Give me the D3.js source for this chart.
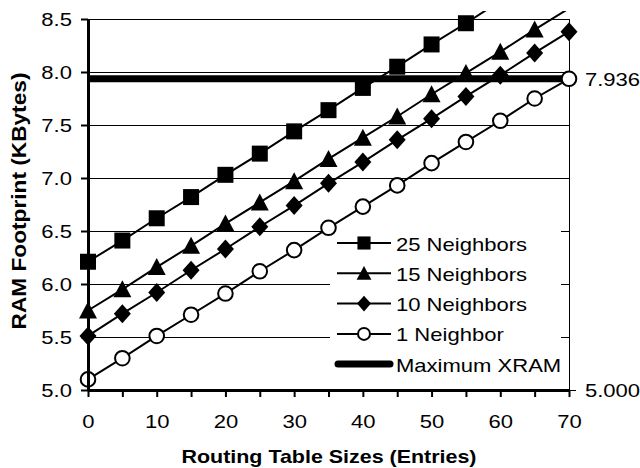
<!DOCTYPE html>
<html>
<head>
<meta charset="utf-8">
<script src="https://cdn.jsdelivr.net/npm/d3@7"></script>
<style>
  body { margin: 0; background: #fff; }
  text { font-family: "Liberation Sans", Arial, sans-serif; fill: #000; }
</style>
</head>
<body>
<svg width="640" height="468"></svg>
<script>
// routing table sizes (entries)
const tableSizes = [0, 5, 10, 15, 20, 25, 30, 35, 40, 45, 50, 55, 60, 65, 70];
// RAM footprint in KBytes
const neighbors25 = [6.21, 6.41, 6.62, 6.82, 7.03, 7.23, 7.44, 7.64, 7.85, 8.05, 8.26, 8.46, 8.67, 8.87, 9.08];
const neighbors15 = [5.75, 5.95, 6.16, 6.36, 6.57, 6.77, 6.97, 7.18, 7.38, 7.58, 7.79, 7.99, 8.19, 8.40, 8.60];
const neighbors10 = [5.51, 5.72, 5.92, 6.13, 6.33, 6.54, 6.74, 6.95, 7.15, 7.36, 7.56, 7.77, 7.97, 8.18, 8.38];
const neighbors1 = [5.10, 5.30, 5.51, 5.71, 5.91, 6.12, 6.32, 6.53, 6.73, 6.93, 7.14, 7.34, 7.54, 7.75, 7.936];
const maxXram = 7.936;

const seriesNames = ["25 Neighbors", "15 Neighbors", "10 Neighbors", "1 Neighbor"];
const seriesValues = [neighbors25, neighbors15, neighbors10, neighbors1];
const seriesMarkers = ["square", "triangle", "diamond", "circle"];

const yTicks = [5.0, 5.5, 6.0, 6.5, 7.0, 7.5, 8.0, 8.5];
const rightLabels = [7.936, 5.000];

const svg = d3.select("svg");
const x = d3.scaleLinear().domain([0, 70]).range([88, 569]);
const y = d3.scaleLinear().domain([5, 8.5]).range([390, 19]);

const SX = 1.16; // text in the picture is a bit wider than the font

function marker(g, type, cx, cy, s) {
  if (type === "square") {
    g.append("rect").attr("x", cx - 8 * s).attr("y", cy - 8 * s)
      .attr("width", 16 * s).attr("height", 16 * s).attr("fill", "#000");
  } else if (type === "triangle") {
    g.append("path").attr("fill", "#000")
      .attr("d", `M${cx},${cy - 9 * s}L${cx + 9 * s},${cy + 8 * s}L${cx - 9 * s},${cy + 8 * s}Z`);
  } else if (type === "diamond") {
    g.append("path").attr("fill", "#000")
      .attr("d", `M${cx},${cy - 9.5 * s}L${cx + 8.5 * s},${cy}L${cx},${cy + 9.5 * s}L${cx - 8.5 * s},${cy}Z`);
  } else {
    g.append("circle").attr("cx", cx).attr("cy", cy).attr("r", 7.3 * s)
      .attr("fill", "#fff").attr("stroke", "#000").attr("stroke-width", 2);
  }
}

function label(g, tx, ty, str, anchor, size, bold) {
  return g.append("text")
    .attr("transform", `translate(${tx},${ty}) scale(${SX},1)`)
    .attr("text-anchor", anchor || "start")
    .style("font-size", (size || 19) + "px")
    .style("font-weight", bold ? "bold" : "normal")
    .text(str);
}

// gridlines
svg.append("g").selectAll("line")
  .data(yTicks.slice(1))
  .join("line")
  .attr("x1", 88).attr("x2", 569)
  .attr("y1", d => Math.round(y(d)) + 0.5).attr("y2", d => Math.round(y(d)) + 0.5)
  .attr("stroke", "#000").attr("stroke-width", 1);

// right axis
const right = svg.append("g");
right.append("line").attr("x1", 569.5).attr("x2", 569.5).attr("y1", y(8.5)).attr("y2", y(5))
  .attr("stroke", "#000").attr("stroke-width", 1);
right.selectAll("line.in").data(yTicks.slice(1)).join("line").attr("class", "in")
  .attr("x1", 561).attr("x2", 569)
  .attr("y1", d => Math.round(y(d)) + 0.5).attr("y2", d => Math.round(y(d)) + 0.5)
  .attr("stroke", "#000");
right.selectAll("line.out").data(rightLabels).join("line").attr("class", "out")
  .attr("x1", 569).attr("x2", 576)
  .attr("y1", d => Math.round(y(d)) + 0.5).attr("y2", d => Math.round(y(d)) + 0.5)
  .attr("stroke", "#000");
rightLabels.forEach(v => label(right, 585, y(v) + 7, d3.format(".3f")(v), "start"));

// legend box (under the marks)
const legend = svg.append("g");
legend.append("rect").attr("x", 330).attr("y", 229).attr("width", 231).attr("height", 154)
  .attr("fill", "#fff");

// maximum XRAM
svg.append("line")
  .attr("x1", x(0)).attr("x2", x(70))
  .attr("y1", y(maxXram)).attr("y2", y(maxXram))
  .attr("stroke", "#000").attr("stroke-width", 7);

// series
svg.append("defs").append("clipPath").attr("id", "plot")
  .append("rect").attr("x", 70).attr("y", 11).attr("width", 520).attr("height", 400);

const line = d3.line().x((d, i) => x(tableSizes[i])).y(d => y(d));
const plot = svg.append("g").attr("clip-path", "url(#plot)");
seriesValues.forEach((vals, k) => {
  plot.append("path").attr("d", line(vals))
    .attr("fill", "none").attr("stroke", "#000").attr("stroke-width", 2);
});
seriesValues.forEach((vals, k) => {
  vals.forEach((v, i) => {
    if (v <= 8.5) marker(plot, seriesMarkers[k], x(tableSizes[i]), y(v), 1);
  });
});

// axes
const ax = svg.append("g").attr("transform", "translate(0,390)")
  .call(d3.axisBottom(x).tickValues(tableSizes).tickSize(7).tickSizeOuter(0)
    .tickFormat(d => d % 10 === 0 ? d : ""));
ax.select(".domain").attr("stroke-width", 3);
ax.selectAll(".tick line").attr("stroke-width", 2);
ax.selectAll("text").attr("dy", null).attr("y", null)
  .attr("transform", `translate(0,38) scale(${SX},1)`)
  .style("font-size", "19px").style("font-family", null);

const ay = svg.append("g").attr("transform", "translate(88,0)")
  .call(d3.axisLeft(y).tickValues(yTicks).tickSize(7).tickSizeOuter(0)
    .tickFormat(d3.format(".1f")));
ay.select(".domain").attr("stroke-width", 3);
ay.selectAll(".tick line").attr("stroke-width", 2);
ay.selectAll("text").attr("x", null).attr("dy", "0.36em")
  .attr("transform", `translate(-16,0) scale(${SX},1)`)
  .style("font-size", "19px").style("font-family", null);

// legend entries
seriesNames.forEach((name, k) => {
  const cy = 243 + 30.3 * k;
  legend.append("line").attr("x1", 337).attr("x2", 391).attr("y1", cy).attr("y2", cy)
    .attr("stroke", "#000").attr("stroke-width", 2);
  marker(legend, seriesMarkers[k], 364, cy, 0.82);
  label(legend, 396, cy + 7.5, name, "start");
});
legend.append("line").attr("x1", 338).attr("x2", 390).attr("y1", 364).attr("y2", 364)
  .attr("stroke", "#000").attr("stroke-width", 7).attr("stroke-linecap", "round");
label(legend, 396, 371.5, "Maximum XRAM", "start");

// titles
label(svg, 329, 463, "Routing Table Sizes (Entries)", "middle", 18.5, true);
svg.append("text")
  .attr("transform", "translate(26,201) rotate(-90) scale(1.08,1)")
  .attr("text-anchor", "middle")
  .style("font-size", "21px").style("font-weight", "bold")
  .text("RAM Footprint (KBytes)");
</script>
</body>
</html>
